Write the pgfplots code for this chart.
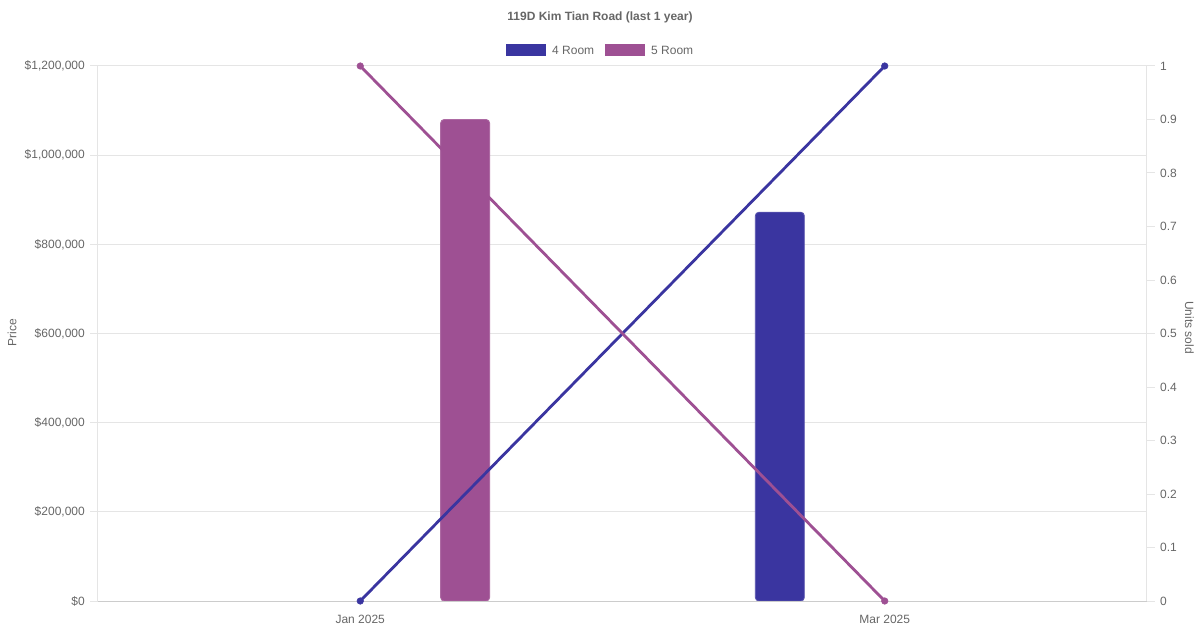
\documentclass[border=0pt]{standalone}
\usepackage{pgfplots}
\pgfplotsset{compat=1.18}
\usepackage{fontspec}
\setmainfont{Liberation Sans}

\definecolor{roomfour}{HTML}{3A35A0}
\definecolor{roomfive}{HTML}{9E5093}
\definecolor{txtgray}{HTML}{666666}
\definecolor{gridgray}{HTML}{E5E5E5}
\definecolor{basegray}{HTML}{CCCCCC}

\begin{document}
\fontsize{12}{14}\selectfont
\begin{tikzpicture}
\pgfplotsset{
  chartbase/.style={
    at={(0,0)}, anchor=south west,
    scale only axis, width=1049pt, height=535pt,
    xmin=-0.5, xmax=1.5,
    /pgf/number format/assume math mode=true,
    tick label style={font=\fontsize{12}{14}\selectfont, text=txtgray},
    label style={font=\fontsize{12}{14}\selectfont, text=txtgray},
    tick align=outside,
    major tick length=8pt,
    tick style={gridgray, line width=1pt},
  },
}
% prices (bars)
\begin{axis}[
  chartbase,
  axis y line*=left,
  axis x line*=bottom,
  axis line style={draw=none},
  ymin=0, ymax=1200000,
  ytick={0,200000,400000,600000,800000,1000000,1200000},
  yticklabels={{\$0},{\$200,000},{\$400,000},{\$600,000},{\$800,000},{\$1,000,000},{\$1,200,000}},
  scaled y ticks=false,
  ymajorgrids,
  grid style={gridgray, line width=1pt},
  xtick={0,1},
  xticklabels={Jan 2025,Mar 2025},
  x tick style={draw=none},
  xticklabel style={yshift=-2pt},
  ylabel={Price},
  ylabel style={at={(ticklabel cs:0.5)}, xshift=1pt},
  yticklabel style={xshift=-1pt},
  clip=false,
]
\draw[gridgray, line width=1pt] (axis cs:-0.5,0) -- (axis cs:-0.5,1200000);
\draw[gridgray, line width=1pt] (axis cs:1.5,0) -- (axis cs:1.5,1200000);
\addplot[ybar, bar width=49pt, bar shift=-104.9pt, fill=roomfour,
  draw=roomfour!85!white, line width=0.8pt, rounded corners=3.5pt]
  coordinates {(1,872000)};
\addplot[ybar, bar width=49pt, bar shift=104.9pt, fill=roomfive,
  draw=roomfive!85!white, line width=0.8pt, rounded corners=3.5pt]
  coordinates {(0,1080000)};
\draw[basegray, line width=1pt] (axis cs:-0.5,0) -- (axis cs:1.5,0);
\end{axis}
% units sold (lines)
\begin{axis}[
  chartbase,
  axis y line*=right,
  axis x line=none,
  axis line style={draw=none},
  ymin=0, ymax=1,
  ytick={0,0.1,0.2,0.3,0.4,0.5,0.6,0.7,0.8,0.9,1},
  yticklabels={0,0.1,0.2,0.3,0.4,0.5,0.6,0.7,0.8,0.9,1},
  ylabel={Units sold},
  ylabel style={rotate=180, at={(ticklabel cs:0.5)}, xshift=-6pt},
  yticklabel style={xshift=1pt},
  clip=false,
]
\addplot[roomfour, line width=2.8pt, mark=*,
  mark options={scale=1, line width=0.5pt, fill=roomfour, draw=roomfour}, mark size=3.3pt]
  coordinates {(0,0) (1,1)};
\addplot[roomfive, line width=2.8pt, mark=*,
  mark options={scale=1, line width=0.5pt, fill=roomfive, draw=roomfive}, mark size=3.3pt]
  coordinates {(0,1) (1,0)};
\end{axis}
% title and legend
\node[font=\bfseries\fontsize{12}{14}\selectfont, text=txtgray] at (502pt,584pt) {119D Kim Tian Road (last 1 year)};
\fill[roomfour] (408pt,545pt) rectangle ++(40pt,12pt);
\node[anchor=west, text=txtgray, inner sep=0pt] at (454pt,551pt) {4 Room};
\fill[roomfive] (507pt,545pt) rectangle ++(40pt,12pt);
\node[anchor=west, text=txtgray, inner sep=0pt] at (553pt,551pt) {5 Room};
\pgfresetboundingbox
\path (-98pt,-29pt) rectangle (1102pt,601pt);
\end{tikzpicture}
\end{document}
